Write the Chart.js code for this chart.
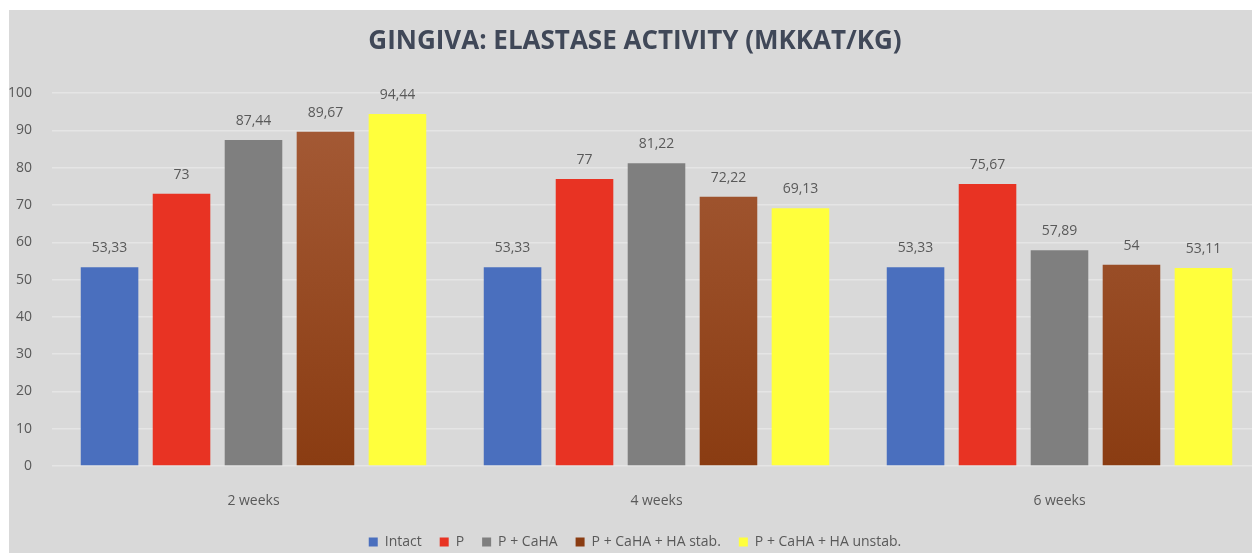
<!DOCTYPE html>
<html>
<head>
<meta charset="utf-8">
<script src="https://cdn.jsdelivr.net/npm/chart.js@4/dist/chart.umd.min.js"></script>
<style>
  html, body { margin: 0; padding: 0; background: #ffffff; overflow: hidden; }
  .wrap { position: absolute; left: 9px; top: 10px; width: 1255px; height: 543px; background: #d9d9d9; }
</style>
</head>
<body>
<div class="wrap"><canvas id="myChart"></canvas></div>
<script>
const categories = ['2 weeks', '4 weeks', '6 weeks'];
const seriesNames = ['Intact', 'P', 'P + CaHA', 'P + CaHA + HA stab.', 'P + CaHA + HA unstab.'];
const intact = [53.33, 53.33, 53.33];
const p = [73, 77, 75.67];
const pCaha = [87.44, 81.22, 57.89];
const haStab = [89.67, 72.22, 54];
const haUnstab = [94.44, 69.13, 53.11];
const yTicks = [0, 10, 20, 30, 40, 50, 60, 70, 80, 90, 100];

const fontName = "'Open Sans', sans-serif";
const textColor = '#595959';

function brownFill(context) {
    const area = context.chart.chartArea;
    if (!area) return '#9a4a22';
    const g = context.chart.ctx.createLinearGradient(0, area.top, 0, area.bottom);
    g.addColorStop(0, '#a65c38');
    g.addColorStop(1, '#8a3c12');
    return g;
}

// value labels above the bars, with comma decimals
const valueLabels = {
    id: 'valueLabels',
    afterDatasetsDraw(chart) {
        const ctx = chart.ctx;
        ctx.save();
        ctx.font = '14px ' + fontName;
        ctx.fillStyle = textColor;
        ctx.textAlign = 'center';
        ctx.textBaseline = 'bottom';
        chart.data.datasets.forEach((ds, i) => {
            chart.getDatasetMeta(i).data.forEach((bar, j) => {
                const txt = String(ds.data[j]).replace('.', ',');
                ctx.fillText(txt, bar.x, bar.y - 12);
            });
        });
        ctx.restore();
    }
};

const ctx = document.getElementById('myChart').getContext('2d');
const myChart = new Chart(ctx, {
    type: 'bar',
    data: {
        labels: categories,
        datasets: [
            { label: seriesNames[0], data: intact, backgroundColor: '#4a6fbe' },
            { label: seriesNames[1], data: p, backgroundColor: '#e83323' },
            { label: seriesNames[2], data: pCaha, backgroundColor: '#7f7f7f' },
            { label: seriesNames[3], data: haStab, backgroundColor: brownFill },
            { label: seriesNames[4], data: haUnstab, backgroundColor: '#ffff3c' }
        ]
    },
    options: {
        responsive: false,
        animation: false,
        devicePixelRatio: 1,
        maintainAspectRatio: false,
        categoryPercentage: 0.893,
        barPercentage: 0.8,
        layout: { padding: { left: 0, right: 3, top: 0, bottom: -6 } },
        plugins: {
            tooltip: { enabled: false },
            title: {
                display: true,
                text: 'GINGIVA: ELASTASE ACTIVITY (MKKAT/KG)',
                color: '#404858',
                font: { family: fontName, size: 26, weight: 'bold' },
                padding: { top: 16, bottom: 36 }
            },
            legend: {
                position: 'bottom',
                labels: {
                    color: textColor,
                    font: { family: fontName, size: 14 },
                    boxWidth: 9,
                    boxHeight: 9,
                    padding: 18
                }
            }
        },
        scales: {
            x: {
                grid: { display: false },
                border: { display: false },
                afterFit(scale) { scale.height = 51; },
                ticks: { color: textColor, font: { family: fontName, size: 14 }, padding: 19 }
            },
            y: {
                min: 0,
                max: 100,
                afterBuildTicks(scale) {
                    scale.ticks = yTicks.map(v => ({ value: v }));
                },
                afterFit(scale) { scale.width = 43; },
                grid: { color: '#e5e5e5', lineWidth: 1.5, drawTicks: false },
                border: { display: false },
                ticks: { color: textColor, font: { family: fontName, size: 14 }, padding: 20 }
            }
        }
    },
    plugins: [valueLabels]
});
myChart.canvas.style.width = '1255px';
myChart.resize(1255, 543);
</script>
</body>
</html>
